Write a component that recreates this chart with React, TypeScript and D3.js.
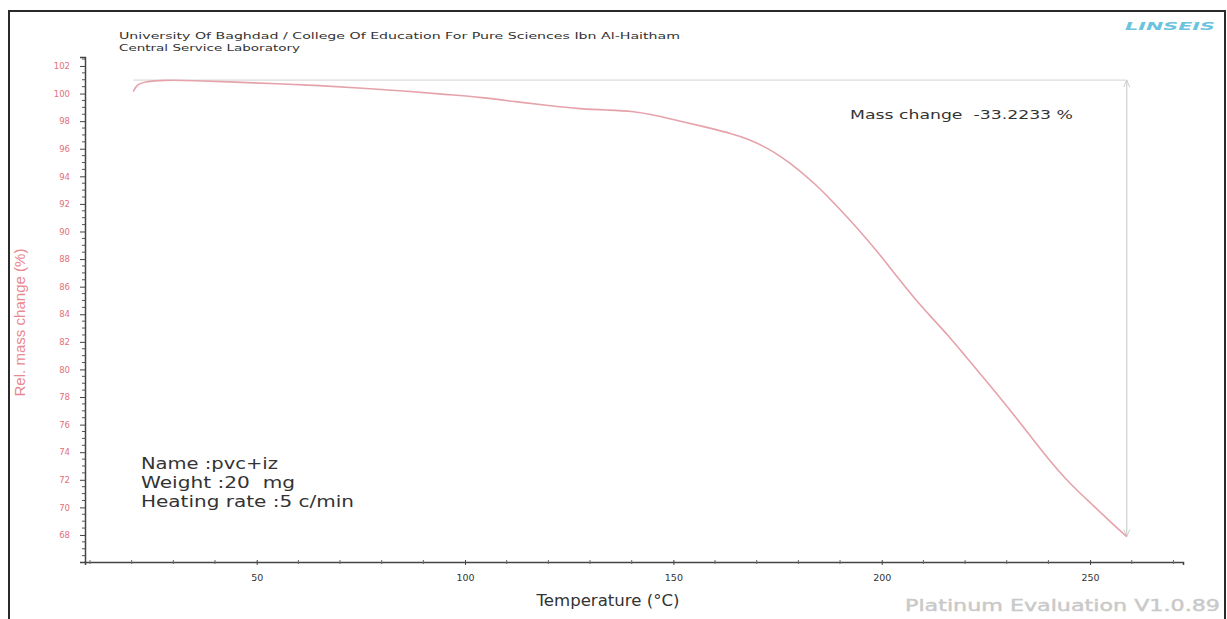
import React, { useRef, useEffect } from 'react';
import * as d3 from 'd3';

// TGA run: temperature (°C) vs relative mass (%)
const temperature = [20.4, 21.2, 23, 27.5, 35, 45, 55, 65, 75, 87.5, 96, 104, 112, 120, 128, 134, 140, 146, 152, 158, 164, 168, 172, 176, 180, 184, 188, 192, 196, 200, 204, 208, 212, 216, 220, 224, 228, 232, 236, 240, 244, 247, 250, 254, 258.8];
const relMass = [100.14, 100.65, 100.85, 100.98, 100.95, 100.82, 100.72, 100.58, 100.4, 100.14, 99.92, 99.72, 99.42, 99.12, 98.88, 98.8, 98.74, 98.4, 97.98, 97.55, 97.1, 96.7, 96.15, 95.4, 94.5, 93.45, 92.25, 90.95, 89.6, 88.15, 86.6, 85.1, 83.75, 82.45, 81.0, 79.55, 78.1, 76.6, 75.05, 73.5, 72.1, 71.2, 70.35, 69.2, 67.88];

const yTicks = [68, 70, 72, 74, 76, 78, 80, 82, 84, 86, 88, 90, 92, 94, 96, 98, 100, 102];
const xTicks = [50, 100, 150, 200, 250];

const headerLines = ['University Of Baghdad / College Of Education For Pure Sciences Ibn Al-Haitham', 'Central Service Laboratory'];
const headerWidths = [561, 181];
const infoLines = ['Name :pvc+iz', 'Weight :20  mg', 'Heating rate :5 c/min'];
const infoWidths = [137, 154, 213];
const massChangeLabel = 'Mass change  -33.2233 %';

const W = 1227;
const H = 619;

function App() {
  const svgRef = useRef(null);

  useEffect(() => {
    const svg = d3.select(svgRef.current);
    svg.selectAll('*').remove();

    const x = d3.scaleLinear().domain([8.8, 272.3]).range([85, 1183]);
    const y = d3.scaleLinear().domain([66.04, 102.65]).range([562, 57]);

    // frame
    svg.append('rect')
      .attr('x', 9).attr('y', 11).attr('width', 1216).attr('height', 620)
      .attr('fill', 'white').attr('stroke', '#2a2a2a').attr('stroke-width', 2);

    // header
    svg.selectAll('.hdr')
      .data(headerLines)
      .join('text')
      .attr('x', 119)
      .attr('y', (d, i) => 39 + i * 12)
      .attr('font-family', 'DejaVu Sans')
      .attr('font-size', 9)
      .attr('fill', '#333')
      .attr('textLength', (d, i) => headerWidths[i])
      .attr('lengthAdjust', 'spacingAndGlyphs')
      .text(d => d);

    svg.append('text')
      .attr('x', 1125).attr('y', 30)
      .attr('font-family', 'DejaVu Sans')
      .attr('font-size', 10)
      .attr('font-style', 'italic')
      .attr('font-weight', 'bold')
      .attr('fill', '#6cc3dd')
      .attr('textLength', 90)
      .attr('lengthAdjust', 'spacingAndGlyphs')
      .text('LINSEIS');

    // y axis
    const yAxis = d3.axisLeft(y).tickValues(yTicks).tickSize(5).tickFormat(d => String(d));
    const gy = svg.append('g').attr('transform', 'translate(85,0)').call(yAxis);
    gy.select('.domain').attr('stroke', '#444').attr('stroke-width', 1.5);
    gy.selectAll('.tick line').attr('stroke', '#444');
    gy.selectAll('.tick text')
      .attr('fill', '#e3707c')
      .attr('font-family', 'DejaVu Sans')
      .attr('font-size', 8.5)
      .attr('x', -15);
    const yMinor = d3.range(66.5, 102.6, 0.5).filter(v => v % 2 !== 0);
    svg.append('g').selectAll('line')
      .data(yMinor)
      .join('line')
      .attr('x1', 82).attr('x2', 85)
      .attr('y1', d => y(d)).attr('y2', d => y(d))
      .attr('stroke', '#555');

    // x axis
    const xAxis = d3.axisBottom(x).tickValues(xTicks).tickSize(3).tickFormat(d => String(d));
    const gx = svg.append('g').attr('transform', 'translate(0,562)').call(xAxis);
    gx.select('.domain').attr('stroke', '#444').attr('stroke-width', 1.5);
    gx.selectAll('.tick line').attr('stroke', '#444').attr('y1', -2);
    gx.selectAll('.tick text')
      .attr('fill', '#333')
      .attr('font-family', 'DejaVu Sans')
      .attr('font-size', 9.5)
      .attr('y', 12);
    const xMinor = d3.range(10, 271, 10).filter(v => v % 50 !== 0);
    svg.append('g').selectAll('line')
      .data(xMinor)
      .join('line')
      .attr('x1', d => x(d)).attr('x2', d => x(d))
      .attr('y1', 560).attr('y2', 564)
      .attr('stroke', '#666');

    // axis titles
    svg.append('text')
      .attr('transform', `translate(25,${y(83.4)}) rotate(-90)`)
      .attr('text-anchor', 'middle')
      .attr('font-family', 'Liberation Sans')
      .attr('font-size', 14)
      .attr('fill', '#e88890')
      .attr('textLength', 148)
      .attr('lengthAdjust', 'spacingAndGlyphs')
      .text('Rel. mass change (%)');

    svg.append('text')
      .attr('x', 608).attr('y', 606)
      .attr('text-anchor', 'middle')
      .attr('font-family', 'DejaVu Sans')
      .attr('font-size', 15)
      .attr('fill', '#333')
      .attr('textLength', 143)
      .attr('lengthAdjust', 'spacingAndGlyphs')
      .text('Temperature (°C)');

    svg.append('text')
      .attr('x', 1220).attr('y', 611)
      .attr('text-anchor', 'end')
      .attr('font-family', 'DejaVu Sans')
      .attr('font-size', 15)
      .attr('fill', '#c9c9c9')
      .attr('stroke', '#c9c9c9')
      .attr('stroke-width', 0.4)
      .attr('textLength', 315)
      .attr('lengthAdjust', 'spacingAndGlyphs')
      .text('Platinum Evaluation V1.0.89');

    // mass change markers
    const maxMass = d3.max(relMass) as number;
    const tEnd = temperature[temperature.length - 1];
    const mEnd = relMass[relMass.length - 1];
    svg.append('line')
      .attr('x1', x(temperature[0])).attr('x2', x(tEnd))
      .attr('y1', y(maxMass)).attr('y2', y(maxMass))
      .attr('stroke', '#dcdcdc').attr('stroke-width', 1.2);
    svg.append('line')
      .attr('x1', x(tEnd)).attr('x2', x(tEnd))
      .attr('y1', y(maxMass)).attr('y2', y(mEnd))
      .attr('stroke', '#cfcfcf').attr('stroke-width', 1.2);
    svg.append('path')
      .attr('d', `M${x(tEnd) - 3},${y(maxMass) + 7}L${x(tEnd)},${y(maxMass)}L${x(tEnd) + 3},${y(maxMass) + 7}`)
      .attr('fill', 'none').attr('stroke', '#cfcfcf');
    svg.append('path')
      .attr('d', `M${x(tEnd) - 3},${y(mEnd) - 7}L${x(tEnd)},${y(mEnd)}L${x(tEnd) + 3},${y(mEnd) - 7}`)
      .attr('fill', 'none').attr('stroke', '#cfcfcf');

    svg.append('text')
      .attr('x', 850).attr('y', 119)
      .attr('font-family', 'DejaVu Sans')
      .attr('font-size', 12.5)
      .attr('fill', '#333')
      .style('white-space', 'pre')
      .attr('textLength', 223)
      .attr('lengthAdjust', 'spacingAndGlyphs')
      .text(massChangeLabel);

    // info block
    svg.selectAll('.info')
      .data(infoLines)
      .join('text')
      .attr('x', 141)
      .attr('y', (d, i) => 469 + i * 19)
      .attr('font-family', 'DejaVu Sans')
      .attr('font-size', 16)
      .attr('fill', '#333')
      .style('white-space', 'pre')
      .attr('textLength', (d, i) => infoWidths[i])
      .attr('lengthAdjust', 'spacingAndGlyphs')
      .text(d => d);

    // curve
    const pts = temperature.map((t, i) => [t, relMass[i]] as [number, number]);
    const line = d3.line<[number, number]>()
      .x(d => x(d[0]))
      .y(d => y(d[1]))
      .curve(d3.curveBasis);
    svg.append('path')
      .datum(pts)
      .attr('d', line)
      .attr('fill', 'none')
      .attr('stroke', '#e6a2ab')
      .attr('stroke-width', 1.6);
  }, []);

  return (
    <svg ref={svgRef} width={W} height={H}
      style={{ position: 'absolute', left: 0, top: 0, background: 'white' }} />
  );
}

export default App;
